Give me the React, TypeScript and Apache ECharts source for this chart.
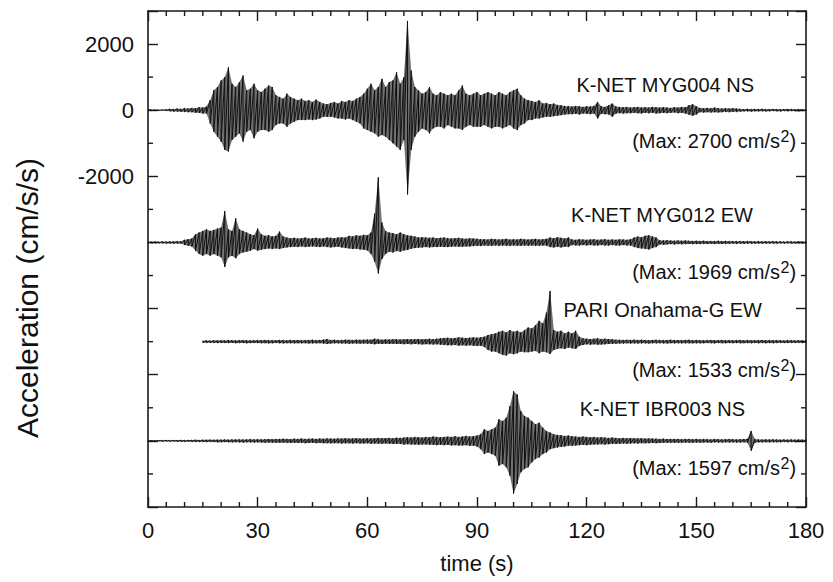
import React, { useEffect, useRef } from 'react';
import * as echarts from 'echarts';

// ---------- axes ----------
const TIME_MIN = 0;
const TIME_MAX = 180;
const TIME_MAJOR = 30;
const TIME_MINOR = 5;
const ACC_MIN = -12000;
const ACC_MAX = 3000;
const ACC_MAJOR = 2000;
const ACC_MINOR = 1000;
const Y_LABELS = [2000, 0, -2000];

// ---------- traces ----------
const TRACE_NAMES = ['K-NET MYG004 NS', 'K-NET MYG012 EW', 'PARI Onahama-G EW', 'K-NET IBR003 NS'];
const TRACE_MAX = [2700, 1969, 1533, 1597];
const TRACE_OFFSETS = [0, -4000, -7000, -10000];

// positive / negative peak amplitudes (cm/s^2) per second, t = 0..180
const MYG004_UP = [
  10, 10, 15, 10, 15, 20, 40, 30, 50, 40,
  60, 50, 70, 60, 90, 80, 110, 300, 600, 700,
  900, 1000, 1300, 800, 700, 850, 1050, 600, 650, 800,
  600, 550, 650, 750, 700, 450, 400, 350, 500, 400,
  350, 300, 350, 280, 300, 250, 320, 250, 200, 180,
  220, 250, 200, 280, 250, 300, 280, 350, 400, 500,
  650, 800, 600, 700, 950, 700, 850, 900, 1150, 800,
  1000, 2700, 1200, 700, 600, 500, 550, 700, 500, 450,
  550, 500, 450, 500, 450, 600, 750, 500, 450, 500,
  550, 450, 500, 550, 500, 450, 550, 500, 450, 550,
  600, 650, 450, 350, 300, 280, 250, 300, 200, 220,
  180, 200, 160, 150, 130, 120, 110, 130, 120, 100,
  120, 110, 130, 250, 120, 100, 150, 200, 110, 100,
  90, 100, 80, 90, 100, 80, 90, 80, 100, 90,
  80, 90, 80, 70, 90, 80, 100, 90, 150, 180,
  120, 70, 60, 70, 60, 80, 60, 50, 60, 50,
  60, 50, 40, 30, 40, 30, 35, 30, 40, 30,
  30, 35, 30, 25, 30, 35, 30, 25, 30, 25,
  20,
];
const MYG004_DOWN = [
  10, 15, 10, 15, 10, 20, 30, 40, 40, 50,
  50, 60, 60, 80, 80, 100, 100, 400, 650, 800,
  950, 1200, 1250, 900, 800, 700, 950, 650, 600, 850,
  650, 600, 600, 650, 600, 450, 400, 400, 500, 400,
  350, 300, 300, 300, 280, 300, 280, 250, 200, 200,
  200, 220, 250, 250, 280, 250, 300, 350, 400, 550,
  600, 650, 700, 800, 750, 800, 900, 1000, 1100, 1200,
  900, 2550, 1200, 800, 650, 550, 600, 700, 550, 500,
  500, 550, 450, 500, 550, 550, 600, 500, 450, 500,
  500, 500, 450, 500, 550, 500, 500, 550, 500, 450,
  550, 600, 450, 400, 300, 300, 250, 250, 220, 200,
  200, 180, 170, 150, 130, 120, 120, 110, 130, 100,
  110, 120, 100, 250, 110, 120, 130, 200, 100, 90,
  100, 90, 90, 80, 90, 100, 80, 90, 80, 100,
  90, 80, 90, 80, 70, 90, 80, 100, 140, 170,
  130, 60, 70, 60, 70, 60, 70, 60, 50, 60,
  50, 50, 40, 35, 30, 40, 30, 35, 30, 35,
  30, 25, 30, 35, 25, 30, 25, 30, 30, 25,
  20,
];

const MYG012_UP = [
  20, 20, 25, 20, 30, 25, 30, 30, 35, 30,
  80, 100, 120, 250, 300, 350, 400, 350, 380, 420,
  450, 950, 400, 350, 730, 400, 350, 300, 250, 220,
  420, 250, 200, 220, 180, 200, 330, 180, 150, 130,
  140, 120, 130, 150, 120, 130, 140, 120, 130, 150,
  140, 130, 150, 160, 150, 200, 180, 220, 200, 230,
  220, 300, 870, 1969, 600, 350, 300, 280, 250, 300,
  250, 220, 200, 180, 150, 160, 150, 140, 150, 130,
  140, 150, 130, 120, 130, 140, 120, 110, 130, 120,
  110, 100, 100, 90, 110, 100, 90, 100, 110, 90,
  100, 90, 110, 100, 90, 100, 110, 90, 100, 110,
  150, 130, 160, 140, 120, 150, 90, 80, 100, 90,
  80, 90, 100, 80, 90, 100, 80, 90, 80, 100,
  90, 80, 100, 150, 180, 160, 200, 220, 180, 150,
  70, 60, 70, 60, 50, 60, 50, 60, 50, 45,
  50, 45, 50, 40, 45, 40, 50, 40, 45, 40,
  40, 35, 40, 35, 40, 35, 30, 35, 30, 35,
  30, 35, 30, 30, 25, 30, 30, 25, 30, 25,
  25,
];
const MYG012_DOWN = [
  20, 25, 20, 25, 25, 30, 30, 35, 30, 35,
  80, 100, 120, 250, 350, 400, 350, 400, 350, 400,
  450, 740, 450, 400, 480, 350, 300, 280, 250, 200,
  250, 220, 200, 180, 200, 180, 200, 170, 150, 140,
  130, 140, 120, 140, 130, 120, 130, 140, 120, 140,
  150, 140, 130, 150, 170, 180, 200, 190, 210, 220,
  240, 350, 580, 940, 500, 350, 280, 300, 260, 280,
  240, 230, 190, 170, 160, 150, 140, 150, 140, 140,
  130, 140, 140, 130, 120, 130, 130, 120, 120, 110,
  100, 110, 90, 100, 100, 90, 100, 90, 100, 100,
  90, 100, 100, 90, 100, 90, 100, 100, 90, 100,
  140, 150, 130, 150, 130, 140, 80, 90, 90, 80,
  90, 80, 90, 90, 80, 90, 90, 80, 90, 90,
  80, 90, 90, 140, 170, 180, 190, 210, 170, 140,
  60, 70, 60, 50, 60, 50, 55, 50, 45, 50,
  45, 50, 40, 45, 40, 45, 40, 45, 40, 40,
  35, 40, 35, 40, 30, 35, 35, 30, 35, 30,
  30, 30, 35, 25, 30, 25, 30, 30, 25, 30,
  25,
];

const ONAHAMA_UP = [
  null, null, null, null, null, null, null, null, null, null,
  null, null, null, null, null, 30, 35, 30, 40, 35,
  40, 35, 45, 40, 35, 40, 45, 40, 35, 40,
  45, 40, 50, 45, 40, 45, 50, 45, 40, 50,
  45, 50, 40, 45, 50, 55, 45, 50, 60, 80,
  50, 55, 45, 50, 60, 55, 50, 60, 55, 60,
  65, 60, 90, 70, 60, 70, 65, 70, 75, 65,
  70, 80, 70, 75, 80, 70, 80, 85, 75, 90,
  100, 110, 120, 100, 110, 130, 120, 110, 120, 130,
  120, 130, 150, 200, 230, 250, 300, 330, 280, 350,
  300, 330, 280, 350, 430, 400, 500, 630, 550, 880,
  1533, 350, 300, 330, 250, 300, 250, 330, 150, 100,
  90, 80, 90, 100, 80, 90, 80, 70, 60, 55,
  50, 55, 50, 60, 50, 55, 50, 45, 50, 55,
  50, 45, 50, 55, 45, 50, 45, 50, 55, 45,
  50, 45, 40, 45, 50, 40, 45, 50, 40, 45,
  40, 45, 50, 40, 45, 40, 45, 40, 50, 40,
  45, 40, 45, 40, 35, 45, 40, 35, 40, 35,
  35,
];
const ONAHAMA_DOWN = [
  null, null, null, null, null, null, null, null, null, null,
  null, null, null, null, null, 30, 30, 35, 35, 40,
  35, 40, 40, 35, 45, 40, 40, 45, 40, 40,
  40, 45, 45, 50, 45, 40, 45, 50, 45, 45,
  50, 45, 50, 45, 55, 50, 50, 45, 55, 70,
  55, 50, 50, 55, 55, 60, 55, 55, 60, 55,
  60, 65, 80, 65, 70, 65, 70, 65, 70, 70,
  75, 70, 80, 70, 75, 85, 75, 80, 85, 80,
  90, 100, 110, 110, 100, 120, 110, 120, 110, 120,
  130, 120, 160, 250, 300, 300, 350, 400, 420, 350,
  380, 350, 300, 320, 320, 300, 280, 350, 300, 320,
  370, 250, 220, 200, 220, 180, 200, 220, 130, 100,
  80, 90, 80, 90, 85, 80, 70, 65, 60, 55,
  55, 50, 55, 50, 55, 50, 50, 55, 45, 50,
  45, 50, 55, 45, 50, 45, 50, 45, 50, 50,
  45, 50, 45, 40, 45, 50, 40, 45, 45, 40,
  45, 40, 45, 45, 40, 45, 40, 45, 40, 45,
  40, 45, 40, 35, 40, 40, 35, 40, 35, 40,
  35,
];

const IBR003_UP = [
  10, 15, 10, 15, 15, 20, 15, 20, 20, 25,
  20, 25, 25, 30, 25, 30, 30, 35, 30, 35,
  35, 40, 35, 40, 40, 45, 40, 45, 50, 45,
  50, 45, 50, 55, 50, 60, 55, 65, 60, 55,
  65, 60, 70, 60, 65, 70, 60, 70, 65, 75,
  70, 65, 75, 70, 80, 70, 75, 80, 70, 75,
  80, 75, 80, 90, 80, 85, 90, 80, 95, 90,
  100, 110, 100, 120, 110, 100, 120, 110, 130, 120,
  110, 120, 130, 120, 140, 120, 130, 150, 130, 140,
  160, 200, 350, 300, 350, 400, 650, 600, 700, 1050,
  1500, 1400, 900, 750, 700, 600, 500, 550, 400, 300,
  250, 200, 180, 170, 150, 160, 140, 130, 120, 130,
  120, 110, 120, 100, 110, 100, 90, 100, 90, 80,
  90, 80, 85, 80, 75, 80, 70, 75, 70, 65,
  60, 65, 55, 60, 55, 60, 50, 55, 60, 50,
  55, 50, 55, 50, 45, 55, 50, 45, 50, 55,
  50, 45, 50, 55, 60, 300, 60, 45, 40, 45,
  40, 45, 40, 35, 40, 35, 40, 35, 40, 35,
  35,
];
const IBR003_DOWN = [
  15, 10, 15, 10, 20, 15, 20, 15, 25, 20,
  25, 20, 30, 25, 30, 30, 35, 30, 35, 40,
  40, 35, 40, 45, 40, 45, 50, 45, 45, 50,
  45, 50, 55, 50, 55, 55, 60, 55, 60, 65,
  60, 65, 60, 70, 65, 60, 70, 65, 70, 70,
  75, 70, 70, 80, 75, 75, 80, 70, 80, 80,
  75, 85, 80, 85, 90, 80, 90, 95, 85, 95,
  110, 100, 110, 110, 120, 110, 110, 120, 120, 130,
  120, 130, 120, 140, 130, 140, 140, 130, 150, 150,
  170, 250, 400, 350, 400, 450, 750, 700, 800, 1050,
  1597, 1300, 950, 850, 800, 650, 550, 500, 400, 350,
  250, 220, 200, 180, 170, 150, 150, 140, 130, 120,
  130, 120, 110, 110, 100, 110, 100, 90, 95, 90,
  80, 85, 80, 75, 80, 70, 75, 70, 65, 70,
  65, 60, 60, 55, 60, 55, 55, 50, 55, 55,
  50, 55, 50, 50, 55, 45, 50, 50, 45, 50,
  45, 50, 50, 45, 55, 300, 55, 45, 45, 40,
  45, 40, 40, 40, 35, 40, 35, 40, 35, 35,
  35,
];

const TRACE_UP = [MYG004_UP, MYG012_UP, ONAHAMA_UP, IBR003_UP];
const TRACE_DOWN = [MYG004_DOWN, MYG012_DOWN, ONAHAMA_DOWN, IBR003_DOWN];

const FONT = "'Liberation Sans', Arial, Helvetica, sans-serif";

// minor tick values (between the labelled major ticks)
const X_MINOR_TICKS: number[] = [];
for (let v = TIME_MIN + TIME_MINOR; v < TIME_MAX; v += TIME_MINOR) {
  if (v % TIME_MAJOR !== 0) X_MINOR_TICKS.push(v);
}
const Y_MINOR_TICKS: number[] = [];
for (let v = ACC_MIN + ACC_MINOR; v < ACC_MAX; v += ACC_MINOR) {
  if (v % ACC_MAJOR !== 0) Y_MINOR_TICKS.push(v);
}

// each second: a stroke from its positive peak down to its negative peak
function buildWave(up: (number | null)[], down: (number | null)[], offset: number) {
  const pts: number[][] = [];
  for (let t = 0; t < up.length; t++) {
    const u = up[t];
    const d = down[t];
    if (u == null || d == null) continue;
    pts.push([t, offset + u]);
    pts.push([t, offset - d]);
  }
  return pts;
}

export default function App() {
  const ref = useRef<HTMLDivElement>(null);

  useEffect(() => {
    if (!ref.current) return;
    const chart = echarts.init(ref.current, undefined, { renderer: 'svg' });

    const ink = '#1a1a1a';
    const axisLine = { show: true, onZero: false, lineStyle: { color: ink, width: 1.6 } };
    const tick = { show: true, inside: true, length: 10, lineStyle: { color: ink, width: 1.4 } };
    const common = { type: 'value', splitLine: { show: false }, axisLine, axisTick: tick };

    const xAxisOf = (position: string, extra: any = {}) => ({
      ...common,
      min: TIME_MIN,
      max: TIME_MAX,
      interval: TIME_MAJOR,
      position,
      axisLabel: { show: false },
      ...extra,
    });
    const yAxisOf = (position: string, extra: any = {}) => ({
      ...common,
      min: ACC_MIN,
      max: ACC_MAX,
      interval: ACC_MAJOR,
      position,
      axisLabel: { show: false },
      ...extra,
    });

    const graphics: any[] = [
      {
        type: 'text',
        x: 27,
        y: 298,
        rotation: Math.PI / 2,
        style: {
          text: 'Acceleration (cm/s/s)',
          fontSize: 30,
          fontFamily: FONT,
          fill: '#111',
          textAlign: 'center',
          textVerticalAlign: 'middle',
        },
      },
    ];
    const nameRight = [754, 753, 762, 745];
    const nameY = [85, 215, 310, 409];
    const maxY = [141, 272, 370, 468];
    TRACE_NAMES.forEach((n, i) => {
      graphics.push({
        type: 'text',
        x: nameRight[i],
        y: nameY[i],
        style: { text: n, fontSize: 20, fontFamily: FONT, fill: '#111', textAlign: 'right', textVerticalAlign: 'middle' },
      });
      graphics.push({
        type: 'text',
        x: 780,
        y: maxY[i],
        style: { text: `(Max: ${TRACE_MAX[i]} cm/s`, fontSize: 20, fontFamily: FONT, fill: '#111', textAlign: 'right', textVerticalAlign: 'middle' },
      });
      graphics.push({
        type: 'text',
        x: 780.5,
        y: maxY[i] - 5,
        style: { text: '2', fontSize: 16, fontFamily: FONT, fill: '#111', textAlign: 'left', textVerticalAlign: 'middle' },
      });
      graphics.push({
        type: 'text',
        x: 789.5,
        y: maxY[i],
        style: { text: ')', fontSize: 20, fontFamily: FONT, fill: '#111', textAlign: 'left', textVerticalAlign: 'middle' },
      });
    });

    const tickStyle = { stroke: ink, lineWidth: 1.4 };

    const envelopes = TRACE_OFFSETS.map((off, i) => ({
      type: 'custom',
      name: TRACE_NAMES[i] + ' envelope',
      xAxisIndex: 0,
      yAxisIndex: 0,
      silent: true,
      clip: true,
      data: [[TIME_MIN, off]],
      renderItem: (_p: any, api: any) => {
        const up = TRACE_UP[i];
        const down = TRACE_DOWN[i];
        const pts: number[][] = [];
        for (let t = 0; t < up.length; t++) {
          const u = up[t];
          if (u != null) pts.push(api.coord([t, off + u]));
        }
        for (let t = down.length - 1; t >= 0; t--) {
          const d = down[t];
          if (d != null) pts.push(api.coord([t, off - d]));
        }
        return { type: 'polygon', shape: { points: pts }, style: { fill: '#111', opacity: 0.6 } };
      },
    }));

    chart.setOption({
      animation: false,
      backgroundColor: '#fff',
      textStyle: { fontFamily: FONT },
      grid: { left: 148, right: 27, top: 11, bottom: 75 },
      xAxis: [
        xAxisOf('bottom', {
          name: 'time (s)',
          nameLocation: 'middle',
          nameGap: 45,
          nameTextStyle: { fontSize: 22, color: '#111', fontFamily: FONT },
          axisLabel: { show: true, fontSize: 22, color: '#111', margin: 12, fontFamily: FONT },
        }),
        xAxisOf('top'),
      ],
      yAxis: [
        yAxisOf('left', {
          axisLabel: {
            show: true,
            fontSize: 22,
            color: '#111',
            margin: 14,
            fontFamily: FONT,
            formatter: (v: number) => (Y_LABELS.includes(v) ? String(v) : ''),
          },
        }),
        yAxisOf('right'),
      ],
      graphic: graphics,
      series: [
        // minor ticks on the bottom and top frame, placed through the time axis
        {
          type: 'custom',
          name: 'x minor ticks',
          xAxisIndex: 0,
          yAxisIndex: 0,
          silent: true,
          clip: false,
          data: X_MINOR_TICKS.map((v) => [v, ACC_MIN]),
          renderItem: (_p: any, api: any) => {
            const v = api.value(0);
            const [x, yb] = api.coord([v, ACC_MIN]);
            const yt = api.coord([v, ACC_MAX])[1];
            return {
              type: 'group',
              children: [
                { type: 'line', shape: { x1: x, y1: yb, x2: x, y2: yb - 5 }, style: tickStyle },
                { type: 'line', shape: { x1: x, y1: yt, x2: x, y2: yt + 5 }, style: tickStyle },
              ],
            };
          },
        },
        // minor ticks on the left and right frame, placed through the acceleration axis
        {
          type: 'custom',
          name: 'y minor ticks',
          xAxisIndex: 0,
          yAxisIndex: 0,
          silent: true,
          clip: false,
          data: Y_MINOR_TICKS.map((v) => [TIME_MIN, v]),
          renderItem: (_p: any, api: any) => {
            const v = api.value(1);
            const [xl, y] = api.coord([TIME_MIN, v]);
            const xr = api.coord([TIME_MAX, v])[0];
            return {
              type: 'group',
              children: [
                { type: 'line', shape: { x1: xl, y1: y, x2: xl + 5, y2: y }, style: tickStyle },
                { type: 'line', shape: { x1: xr, y1: y, x2: xr - 5, y2: y }, style: tickStyle },
              ],
            };
          },
        },
        ...envelopes,
        ...TRACE_OFFSETS.map((off, i) => ({
          type: 'line',
          name: TRACE_NAMES[i],
          xAxisIndex: 0,
          yAxisIndex: 0,
          data: buildWave(TRACE_UP[i], TRACE_DOWN[i], off),
          showSymbol: false,
          symbol: 'none',
          clip: true,
          lineStyle: { color: '#111', width: 1 },
        })),
      ],
    });

    return () => chart.dispose();
  }, []);

  return (
    <div
      ref={ref}
      style={{ position: 'absolute', left: 0, top: 0, width: 833, height: 582 }}
    />
  );
}
